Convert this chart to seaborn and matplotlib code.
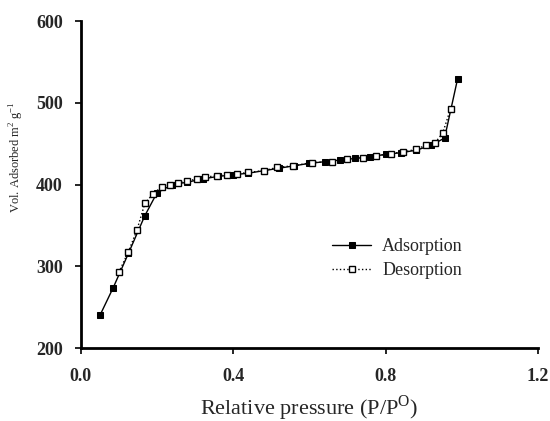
import matplotlib
matplotlib.use("Agg")
import matplotlib.pyplot as plt
import seaborn as sns
import pandas as pd

ads_x = [0.05, 0.085, 0.125, 0.168, 0.20, 0.24, 0.28, 0.32, 0.36, 0.40, 0.44, 0.48,
         0.52, 0.56, 0.60, 0.64, 0.68, 0.72, 0.76, 0.80, 0.84, 0.88, 0.92, 0.955, 0.989]
ads_y = [240, 274, 316, 362, 390, 400, 403, 407, 410, 412, 414, 417,
         420, 423, 426, 428, 430, 432, 434, 437, 439, 442, 448, 457, 529]

des_x = [0.971, 0.95, 0.93, 0.905, 0.88, 0.847, 0.813, 0.774, 0.742, 0.70, 0.66, 0.607,
         0.558, 0.515, 0.48, 0.44, 0.41, 0.384, 0.357, 0.326, 0.304, 0.278, 0.256, 0.234,
         0.212, 0.19, 0.168, 0.147, 0.124, 0.10]
des_y = [493, 463, 451, 448, 443, 440, 438, 435, 433, 431, 428, 427,
         423, 421, 417, 415, 413, 412, 411, 409, 407, 404, 402, 400,
         397, 389, 377, 344, 317, 293]

x_ticks = [0.0, 0.4, 0.8, 1.2]
x_tick_labels = ["0.0", "0.4", "0.8", "1.2"]
y_ticks = [200, 300, 400, 500, 600]

sns.set_style("ticks")
plt.rcParams['font.family'] = ['Liberation Serif', 'DejaVu Serif']
plt.rcParams['mathtext.fontset'] = 'custom'
plt.rcParams['mathtext.rm'] = 'Liberation Serif'

fig = plt.figure(figsize=(5.5, 4.21), dpi=100)
ax = fig.add_axes([0.147, 0.173, 0.831, 0.777])

ads = pd.DataFrame({"x": ads_x, "y": ads_y})
des = pd.DataFrame({"x": des_x, "y": des_y})

sns.lineplot(data=ads, x="x", y="y", sort=False, ax=ax, color="black", lw=1.0,
             marker="s", markersize=5, markerfacecolor="black", markeredgecolor="black",
             label="Adsorption")
sns.lineplot(data=des, x="x", y="y", sort=False, ax=ax, color="black", lw=1.0,
             linestyle=":", marker="s", markersize=5, markerfacecolor="white",
             markeredgecolor="black", markeredgewidth=1.0, label="Desorption")

ax.set_xlim(0, 1.2)
ax.set_ylim(200, 600)
ax.set_xticks(x_ticks)
ax.set_xticklabels(x_tick_labels)
ax.set_yticks(y_ticks)
for lab in ax.get_xticklabels() + ax.get_yticklabels():
    lab.set_fontweight("bold")
    lab.set_fontsize(13)
ax.tick_params(axis="both", direction="out", length=4, width=1.2, color="black")
ax.tick_params(axis="y", pad=9)
ax.tick_params(axis="x", pad=10)

sns.despine(ax=ax)
for s in ["left", "bottom"]:
    ax.spines[s].set_linewidth(2.0)
    ax.spines[s].set_color("black")

ax.set_xlabel("Relative pressure (P/P$^{\\mathrm{O}}$)", fontsize=16, labelpad=6)
ax.set_ylabel("Vol. Adsorbed m$^{2}$ g$^{-1}$", fontsize=9)
ax.yaxis.label.set_va("center")
ax.yaxis.set_label_coords(-0.14, 0.584)

leg = ax.legend(loc="upper left", bbox_to_anchor=(0.549, 0.336), frameon=False,
                fontsize=13, handlelength=2.2, handletextpad=0.6, labelspacing=0.4,
                borderaxespad=0, borderpad=0)

fig.savefig("out.png", dpi=100)
